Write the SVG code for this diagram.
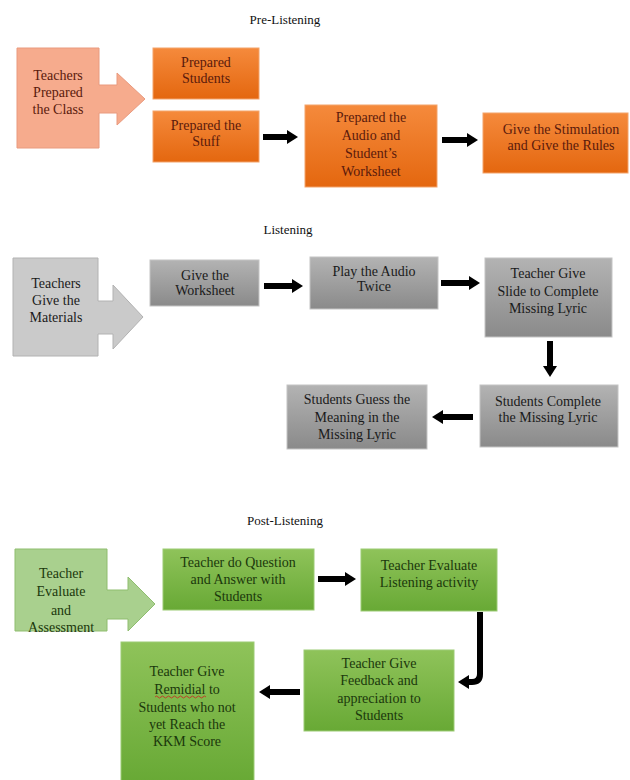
<svg xmlns="http://www.w3.org/2000/svg" width="630" height="780" viewBox="0 0 630 780">
<defs>
<linearGradient id="gOr" x1="0" y1="0" x2="0" y2="1"><stop offset="0" stop-color="#f58a3c"/><stop offset="1" stop-color="#e4670f"/></linearGradient>
<linearGradient id="gGr" x1="0" y1="0" x2="0" y2="1"><stop offset="0" stop-color="#b3b3b3"/><stop offset="1" stop-color="#8a8a8a"/></linearGradient>
<linearGradient id="gGn" x1="0" y1="0" x2="0" y2="1"><stop offset="0" stop-color="#8fc35a"/><stop offset="1" stop-color="#68a935"/></linearGradient>
<marker id="ah" markerUnits="userSpaceOnUse" markerWidth="12" markerHeight="14" refX="1" refY="7" orient="auto"><path d="M0,0 L11,7 L0,14 Z" fill="#000"/></marker>
</defs>
<style>
text{font-family:"Liberation Serif","Times New Roman",serif;font-size:14px;text-anchor:middle}
.title{font-size:13px;fill:#111}
.or{fill:url(#gOr);stroke:#f3a36a;stroke-width:1}
.orT{fill:#5a1a0c}
.pk{fill:#f6ab8d;stroke:#e99a7e;stroke-width:1}
.gr{fill:url(#gGr);stroke:#c4c4c4;stroke-width:1}
.grL{fill:#cacaca;stroke:#b2b2b2;stroke-width:1}
.grT{fill:#1a1a1a}
.gn{fill:url(#gGn);stroke:#9ccb74;stroke-width:1}
.gnL{fill:#a9d08e;stroke:#8fbd6f;stroke-width:1}
.gnT{fill:#1b380c}
.con{stroke:#000;stroke-width:6;fill:none;marker-end:url(#ah)}
</style>
<rect width="630" height="780" fill="#fff"/>

<text class="title" x="285" y="24">Pre-Listening</text>
<text class="title" x="288" y="234">Listening</text>
<text class="title" x="285" y="525">Post-Listening</text>

<g id="n_teachers_prepared">
<path class="pk" d="M17,48 H99 V85 H117 V73 L145,99 L117,125 V113 H99 V148 H17 Z"/>
<text class="orT" x="58"><tspan x="58" y="80">Teachers</tspan><tspan x="58" y="97">Prepared</tspan><tspan x="58" y="114">the Class</tspan></text>
</g>
<g id="n_prepared_students">
<rect class="or" x="153" y="48" width="106" height="51"/>
<text class="orT"><tspan x="206" y="67">Prepared</tspan><tspan x="206" y="83">Students</tspan></text>
</g>
<g id="n_prepared_stuff">
<rect class="or" x="153" y="111" width="106" height="51"/>
<text class="orT"><tspan x="206" y="130">Prepared the</tspan><tspan x="206" y="146">Stuff</tspan></text>
</g>
<g id="n_prepared_audio">
<rect class="or" x="305" y="105" width="132" height="82"/>
<text class="orT"><tspan x="371" y="122">Prepared the</tspan><tspan x="371" y="140">Audio and</tspan><tspan x="371" y="158">Student’s</tspan><tspan x="371" y="176">Worksheet</tspan></text>
</g>
<g id="n_stimulation">
<rect class="or" x="483" y="113" width="145" height="60"/>
<text class="orT"><tspan x="561" y="134">Give the Stimulation</tspan><tspan x="561" y="150">and Give the Rules</tspan></text>
</g>

<g id="n_teachers_give">
<path class="grL" d="M13,258 H98 V301 H113 V285 L143,317 L113,349 V334 H98 V356 H13 Z"/>
<text class="grT"><tspan x="56" y="288">Teachers</tspan><tspan x="56" y="305">Give the</tspan><tspan x="56" y="322">Materials</tspan></text>
</g>
<g id="n_give_worksheet">
<rect class="gr" x="150" y="260" width="109" height="46"/>
<text class="grT"><tspan x="205" y="280">Give the</tspan><tspan x="205" y="295">Worksheet</tspan></text>
</g>
<g id="n_play_audio">
<rect class="gr" x="310" y="257" width="128" height="52"/>
<text class="grT"><tspan x="374" y="276">Play the Audio</tspan><tspan x="374" y="291">Twice</tspan></text>
</g>
<g id="n_slide">
<rect class="gr" x="485" y="258" width="127" height="79"/>
<text class="grT"><tspan x="548" y="278">Teacher Give</tspan><tspan x="548" y="296">Slide to Complete</tspan><tspan x="548" y="313">Missing Lyric</tspan></text>
</g>
<g id="n_complete">
<rect class="gr" x="480" y="385" width="138" height="62"/>
<text class="grT"><tspan x="548" y="406">Students Complete</tspan><tspan x="548" y="422">the Missing Lyric</tspan></text>
</g>
<g id="n_guess">
<rect class="gr" x="287" y="385" width="140" height="64"/>
<text class="grT"><tspan x="357" y="404">Students Guess the</tspan><tspan x="357" y="422">Meaning in the</tspan><tspan x="357" y="439">Missing Lyric</tspan></text>
</g>

<g id="n_teacher_evaluate">
<path class="gnL" d="M15,549 H107 V590 H128 V577 L155,604 L128,631 V619 H107 V631 H15 Z"/>
<text class="gnT"><tspan x="61" y="578">Teacher</tspan><tspan x="61" y="596">Evaluate</tspan><tspan x="61" y="615">and</tspan><tspan x="61" y="632">Assessment</tspan></text>
</g>
<g id="n_question">
<rect class="gn" x="163" y="549" width="151" height="61"/>
<text class="gnT"><tspan x="238" y="567">Teacher do Question</tspan><tspan x="238" y="584">and Answer with</tspan><tspan x="238" y="601">Students</tspan></text>
</g>
<g id="n_evaluate_listening">
<rect class="gn" x="361" y="549" width="136" height="62"/>
<text class="gnT"><tspan x="429" y="570">Teacher Evaluate</tspan><tspan x="429" y="587">Listening activity</tspan></text>
</g>
<g id="n_feedback">
<rect class="gn" x="304" y="650" width="150" height="81"/>
<text class="gnT"><tspan x="379" y="668">Teacher Give</tspan><tspan x="379" y="685">Feedback and</tspan><tspan x="379" y="703">appreciation to</tspan><tspan x="379" y="720">Students</tspan></text>
</g>
<g id="n_remidial">
<rect class="gn" x="121" y="642" width="133" height="140"/>
<text class="gnT"><tspan x="187" y="676">Teacher Give</tspan><tspan x="187" y="694">Remidial to</tspan><tspan x="187" y="712">Students who not</tspan><tspan x="187" y="729">yet Reach the</tspan><tspan x="187" y="746">KKM Score</tspan></text>
<path d="M155,697 q1.5,-2 3,0 t3,0 t3,0 t3,0 t3,0 t3,0 t3,0 t3,0 t3,0 t3,0 t3,0 t3,0 t3,0 t3,0 t3,0 t3,0 t3,0" fill="none" stroke="#d02020" stroke-width="0.8"/>
</g>

<g id="connectors">
<line class="con" x1="263" y1="137" x2="288" y2="137"/>
<line class="con" x1="442" y1="140" x2="468" y2="140"/>
<line class="con" x1="264" y1="286" x2="293" y2="286"/>
<line class="con" x1="441" y1="283" x2="470" y2="283"/>
<line class="con" x1="550" y1="341" x2="550" y2="367"/>
<line class="con" x1="473" y1="417" x2="442" y2="417"/>
<line class="con" x1="318" y1="579" x2="346" y2="579"/>
<path class="con" d="M480,612 V674 Q480,682 472,682 H468"/>
<line class="con" x1="300" y1="692" x2="269" y2="692"/>
</g>
</svg>
